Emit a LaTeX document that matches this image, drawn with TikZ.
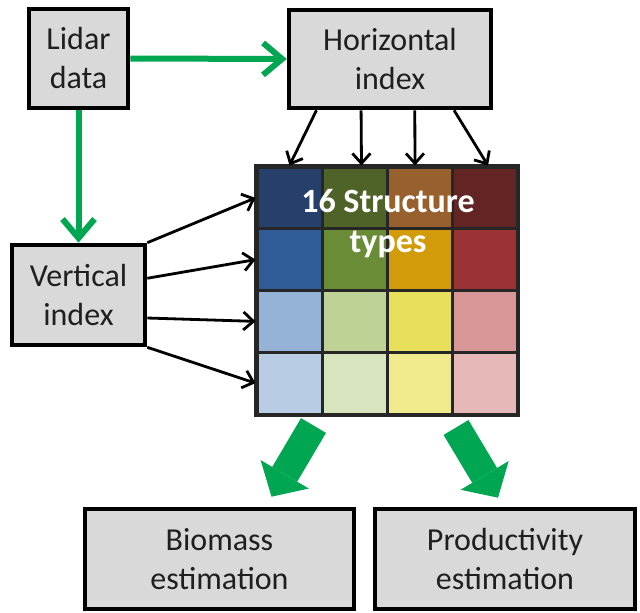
\documentclass[tikz,border=0pt]{standalone}
\usepackage{fontspec}
\setmainfont{Carlito}
\usepackage{xcolor}
\usetikzlibrary{arrows.meta,calc}

\definecolor{boxgray}{RGB}{217,217,217}
\definecolor{arrowgreen}{RGB}{0,166,81}
\definecolor{cellaa}{RGB}{38,64,107}
\definecolor{cellab}{RGB}{79,98,40}
\definecolor{cellac}{RGB}{151,96,45}
\definecolor{cellad}{RGB}{99,37,35}
\definecolor{cellba}{RGB}{47,92,150}
\definecolor{cellbb}{RGB}{107,140,55}
\definecolor{cellbc}{RGB}{210,155,10}
\definecolor{cellbd}{RGB}{155,50,52}
\definecolor{cellca}{RGB}{149,179,215}
\definecolor{cellcb}{RGB}{190,210,150}
\definecolor{cellcc}{RGB}{232,224,90}
\definecolor{cellcd}{RGB}{217,150,150}
\definecolor{cellda}{RGB}{184,204,228}
\definecolor{celldb}{RGB}{215,228,189}
\definecolor{celldc}{RGB}{240,234,140}
\definecolor{celldd}{RGB}{230,185,184}

\begin{document}
\begin{tikzpicture}[x=1pt,y=-1pt,line join=miter]
\tikzset{
    infobox/.style={draw=black, fill=boxgray, line width=4.6pt, inner sep=0pt, align=center,
        text=black!88, font=\fontsize{32}{39}\selectfont},
    cell/.style={draw=black!85, line width=3pt, minimum width=65pt, minimum height=61.75pt, inner sep=0pt},
    greenlink/.style={draw=arrowgreen, line width=6pt, -{Straight Barb[length=19pt,width=32pt]}},
    link/.style={line width=2.8pt, -{Straight Barb[length=10pt,width=18pt]}},
    bigarrow/.style={draw=arrowgreen, line width=29pt,
        -{Triangle[length=26pt,width=56pt,line width=0pt,fill=arrowgreen]}},
}
\useasboundingbox (0,0) rectangle (640,613);
\node[infobox, minimum width=99pt, minimum height=99pt] (lidar) at (78.5,58.5) {Lidar\\data};
\node[infobox, minimum width=202pt, minimum height=98pt] (horiz) at (390,59) {Horizontal\\index};
\node[infobox, minimum width=133pt, minimum height=100pt] (vert) at (78.5,295) {Vertical\\index};
\node[infobox, minimum width=269pt, minimum height=100pt] (biomass) at (219.5,559) {Biomass\\estimation};
\node[infobox, minimum width=260pt, minimum height=100pt] (prod) at (505,559) {Productivity\\estimation};
\foreach \r/\rn in {1/a,2/b,3/c,4/d}
  \foreach \c/\cn in {1/a,2/b,3/c,4/d}
    \node[cell, fill=cell\rn\cn] (c-\r-\c) at ({257+65*(\c-0.5)},{167+61.75*(\r-0.5)}) {};
\draw[draw=black!85, line width=3.5pt] (c-1-1.north west) rectangle (c-4-4.south east);
\node[text=white, align=center, font=\bfseries\fontsize{34}{40}\selectfont] (gridlabel) at (388,224) {16 Structure\\types};
\draw[greenlink] (lidar.east) -- (horiz.west);
\draw[greenlink] (lidar.south) -- (vert.north);
\draw[link] ($(horiz.south west)!0.144!(horiz.south east)$) -- (c-1-1.north);
\draw[link] ($(horiz.south west)!0.36!(horiz.south east)$) -- ([xshift=7pt]c-1-2.north);
\draw[link] ($(horiz.south west)!0.62!(horiz.south east)$) -- ([xshift=-4.5pt]c-1-3.north);
\draw[link] ($(horiz.south west)!0.81!(horiz.south east)$) -- ([xshift=3.5pt]c-1-4.north);
\draw[link] (vert.north east) -- (c-1-1.west);
\draw[link] ($(vert.north east)!0.34!(vert.south east)$) -- (c-2-1.west);
\draw[link] ($(vert.north east)!0.72!(vert.south east)$) -- (c-3-1.west);
\draw[link] (vert.south east) -- (c-4-1.west);
\draw[bigarrow] ([xshift=24pt,yshift=-10pt]c-4-1.south) -- ([xshift=52pt,yshift=10pt]biomass.north);
\draw[bigarrow] ([xshift=36.5pt,yshift=-12pt]c-4-3.south) -- ([xshift=-7pt,yshift=9pt]prod.north);
\end{tikzpicture}
\end{document}
